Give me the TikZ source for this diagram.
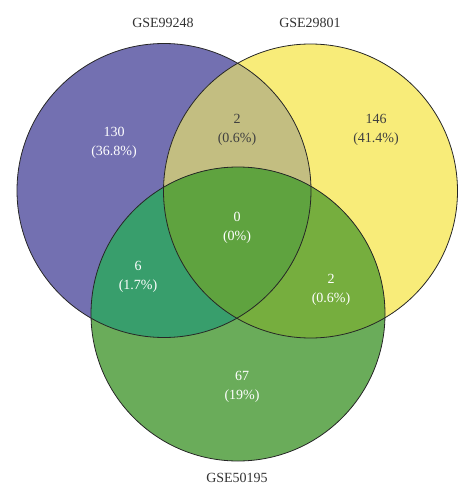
\documentclass[tikz,border=0pt]{standalone}
\usepackage{fontspec}
\setmainfont{Liberation Serif}

\definecolor{setA}{HTML}{7370B1}
\definecolor{setB}{HTML}{F8EC79}
\definecolor{setC}{HTML}{6AAC5A}
\definecolor{setAB}{HTML}{C3BE81}
\definecolor{setAC}{HTML}{389E6C}
\definecolor{setBC}{HTML}{76AE3E}
\definecolor{setABC}{HTML}{5FA33F}

\tikzset{
  count/.style={align=center,font=\fontsize{14}{19}\selectfont,text=white},
  darkcount/.style={count,text=black!75},
  setname/.style={font=\fontsize{14}{17}\selectfont,text=black!80},
  outline/.style={draw=black!85,line width=0.8pt}
}

\begin{document}
\begin{tikzpicture}[x=1pt,y=-1pt]
  \useasboundingbox (0,0) rectangle (475,500);
  \def\circA{(164,190.5) circle (147)}
  \def\circB{(310.5,191) circle (147)}
  \def\circC{(238,314) circle (147)}

  % single sets
  \fill[setA] \circA;
  \fill[setB] \circB;
  \fill[setC] \circC;
  % pairwise overlaps
  \begin{scope}
    \clip \circA;
    \fill[setAB] \circB;
    \fill[setAC] \circC;
  \end{scope}
  \begin{scope}
    \clip \circB;
    \fill[setBC] \circC;
  \end{scope}
  % centre
  \begin{scope}
    \clip \circA;
    \clip \circB;
    \fill[setABC] \circC;
  \end{scope}
  \path[outline] \circA;
  \path[outline] \circB;
  \path[outline] \circC;

  % set names
  \node[setname] (nameA) at (163,23) {GSE99248};
  \node[setname] (nameB) at (310,23) {GSE29801};
  \node[setname] (nameC) at (237,478) {GSE50195};

  % counts
  \node[count] (onlyA) at (114,143) {130\\(36.8\%)};
  \node[darkcount] (onlyB) at (376,130) {146\\(41.4\%)};
  \node[darkcount] (AB) at (237,130) {2\\(0.6\%)};
  \node[count] (ABC) at (237,228) {0\\(0\%)};
  \node[count] (AC) at (138,277) {6\\(1.7\%)};
  \node[count] (BC) at (331,290) {2\\(0.6\%)};
  \node[count] (onlyC) at (242,387) {67\\(19\%)};
\end{tikzpicture}
\end{document}
